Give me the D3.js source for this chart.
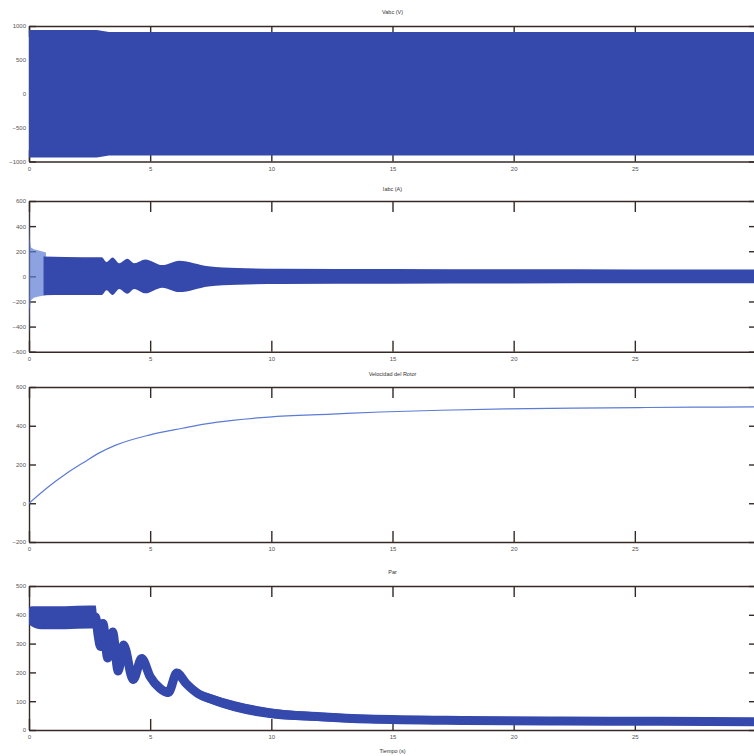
<!DOCTYPE html>
<html lang="es">
<head>
<meta charset="UTF-8">
<title>Arranque motor de induccion</title>
<script src="https://d3js.org/d3.v7.min.js"></script>
<style>
body{margin:0;background:#fff;overflow:hidden;}
text{font-family:"Liberation Sans",Arial,sans-serif;}
</style>
</head>
<body>
<script type="text/javascript">
var width=754, height=756;

// eje de tiempo (s)
var timeTicks=[0,5,10,15,20,25,30];

// Vabc: envolvente de la tension (oscilacion densa)
var vTime=[0,2.8,3.3,30];
var vAmp=[940,940,910,910];

// Iabc: transitorio inicial (trazo claro) y envolvente principal
var iTransTime=[0,0.03,0.08,0.2,0.4,0.7];
var iTransUpper=[560,300,230,215,205,190];
var iTransLower=[-480,-260,-190,-170,-160,-150];
var iTime=[0.6,1.5,3.0,3.2,3.45,3.72,4.06,4.34,4.8,5.5,6.2,7.4,8.6,10.4,15,20,25,30];
var iUpper=[158,155,152,115,150,105,140,105,135,90,125,80,66,60,58,56,55,55];
var iLower=[-150,-148,-148,-110,-148,-100,-138,-100,-135,-90,-125,-80,-66,-60,-58,-56,-55,-55];

// velocidad del rotor
var wTime=[0,0.83,1.5,2.2,2.9,3.58,4.96,6.33,7.3,8.4,9.9,12.5,14.5,17,19.7,22.5,25.2,27.5,30];
var wSpeed=[0,88,150,206,260,300,352,387,410,428,445,460,471,480,487,491,494,496,497];

// par: valor medio y rizado
var parTime=[0,0.1,0.5,1.5,2.5,2.75,2.85,2.95,3.05,3.25,3.45,3.68,3.9,4.3,4.65,5.0,5.4,5.75,6.1,6.5,7.0,7.5,8.5,10,12,14,18,22,26,30];
var parMid=[395,395,390,390,392,392,330,290,370,250,340,205,295,175,248,185,145,130,198,160,125,108,82,58,46,38,33,31,30,29];
var parRipple=[28,35,40,40,40,40,20,15,15,15,15,15,15,15,15,15,15,15,15,15,16,17,18,17,15,14,13,12,12,12];

var vTicks=[-1000,-500,0,500,1000];
var iTicks=[-600,-400,-200,0,200,400,600];
var wTicks=[-200,0,200,400,600];
var parTicks=[0,100,200,300,400,500];

var axisColor="#352a26", blue="#3549ad", lightBlue="#5c7bd4";

var svg=d3.select("body").append("svg")
    .attr("width",width).attr("height",height)
    .style("background","#fff");

var x=d3.scaleLinear().domain([0,30]).range([29,756]);

function zip(t,a,b){
    return t.map(function(d,i){return {t:d,a:a[i],b:b?b[i]:null};});
}

// la figura original esta recortada: la etiqueta 30 no se ve
function timeFormat(d){ return d<30 ? String(d) : ""; }

var panels=[
    {title:"Vabc (V)", top:26, bottom:161.5, domain:[-1000,1000], ticks:vTicks, titleY:14,
     draw:function(g,y){
        g.append("path").datum(zip(vTime,vAmp))
         .attr("fill",blue)
         .attr("d",d3.area().x(function(d){return x(d.t);})
            .y0(function(d){return y(-d.a);}).y1(function(d){return y(d.a);}));
     }},
    {title:"Iabc (A)", top:201, bottom:351.7, domain:[-600,600], ticks:iTicks, titleY:191,
     draw:function(g,y){
        var ar=d3.area().x(function(d){return x(d.t);})
            .y0(function(d){return y(d.b);}).y1(function(d){return y(d.a);});
        g.append("path").datum(zip(iTransTime,iTransUpper,iTransLower))
         .attr("fill",lightBlue).attr("opacity",0.7).attr("d",ar);
        g.append("path").datum(zip(iTime,iUpper,iLower))
         .attr("fill",blue).attr("d",ar.curve(d3.curveMonotoneX));
     }},
    {title:"Velocidad del Rotor", top:387, bottom:542, domain:[-200,600], ticks:wTicks, titleY:376,
     draw:function(g,y){
        g.append("path").datum(zip(wTime,wSpeed))
         .attr("fill","none").attr("stroke",lightBlue).attr("stroke-width",1.2)
         .attr("d",d3.line().curve(d3.curveMonotoneX)
            .x(function(d){return x(d.t);}).y(function(d){return y(d.a);}));
     }},
    {title:"Par", top:586, bottom:730, domain:[0,500], ticks:parTicks, titleY:574, xlabel:"Tiempo (s)",
     draw:function(g,y){
        var data=zip(parTime,parMid,parRipple);
        g.append("path").datum(data)
         .attr("fill",blue)
         .attr("d",d3.area().curve(d3.curveMonotoneX).x(function(d){return x(d.t);})
            .y0(function(d){return y(d.a-d.b);}).y1(function(d){return y(d.a+d.b);}));
        g.append("path").datum(data)
         .attr("fill","none").attr("stroke",blue).attr("stroke-width",9)
         .attr("stroke-linejoin","round")
         .attr("d",d3.line().curve(d3.curveMonotoneX)
            .x(function(d){return x(d.t);}).y(function(d){return y(d.a);}));
     }}
];

panels.forEach(function(p,i){
    var y=d3.scaleLinear().domain(p.domain).range([p.bottom,p.top]);
    var g=svg.append("g");

    // ejes hacia dentro (debajo de los datos, como en MATLAB)
    var ax=g.append("g").attr("class","axes");
    ax.append("g").attr("transform","translate(0,"+p.bottom+")")
      .call(d3.axisBottom(x).tickValues(timeTicks).tickFormat(timeFormat).tickSizeInner(-11).tickSizeOuter(0).tickPadding(5));
    ax.append("g").attr("transform","translate(0,"+p.top+")")
      .call(d3.axisTop(x).tickValues(timeTicks).tickFormat("").tickSizeInner(-11).tickSizeOuter(0));
    ax.append("g").attr("transform","translate("+x(0)+",0)")
      .call(d3.axisLeft(y).tickValues(p.ticks).tickFormat(d3.format("d")).tickSizeInner(-7).tickSizeOuter(0).tickPadding(3));
    ax.append("g").attr("transform","translate("+x(30)+",0)")
      .call(d3.axisRight(y).tickValues(p.ticks).tickFormat("").tickSizeInner(-7).tickSizeOuter(0));
    ax.selectAll("path,line").attr("stroke",axisColor).attr("stroke-width",1.4);
    ax.selectAll("text").attr("fill","#555").style("font-size","6px");

    svg.append("clipPath").attr("id","clip"+i).append("rect")
       .attr("x",x(0)).attr("y",p.top).attr("width",x(30)-x(0)).attr("height",p.bottom-p.top);
    var dg=g.append("g").attr("clip-path","url(#clip"+i+")");
    p.draw(dg,y);

    g.append("text").attr("x",(x(0)+x(30))/2).attr("y",p.titleY)
     .attr("text-anchor","middle").attr("fill","#333").style("font-size","5.5px")
     .text(p.title);
    if(p.xlabel){
        g.append("text").attr("x",(x(0)+x(30))/2).attr("y",753)
         .attr("text-anchor","middle").attr("fill","#333").style("font-size","5.5px")
         .text(p.xlabel);
    }
});
</script>
</body>
</html>
